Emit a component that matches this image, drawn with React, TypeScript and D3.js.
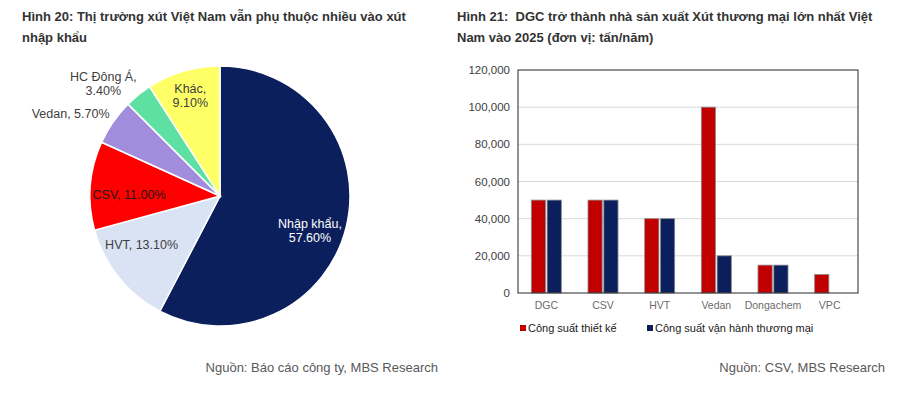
import React from 'react';
import * as d3 from 'd3';

// Pie: thị phần xút Việt Nam
const pieLabels = ['Nhập khẩu', 'HVT', 'CSV', 'Vedan', 'HC Đông Á', 'Khác'];
const pieValues = [57.6, 13.1, 11.0, 5.7, 3.4, 9.1];
const pieColors = ['#0b1f5c', '#dae3f3', '#ff0000', '#a28ddc', '#5fe0a3', '#ffff66'];

// Bar: công suất (tấn/năm)
const companies = ['DGC', 'CSV', 'HVT', 'Vedan', 'Dongachem', 'VPC'];
const seriesNames = ['Công suất thiết kế', 'Công suất vận hành thương mại'];
const designCap = [50000, 50000, 40000, 100000, 15000, 10000];
const operCap = [50000, 50000, 40000, 20000, 15000, 0];
const barColors = ['#c00000', '#0b1f5c'];
const yTicks = [0, 20000, 40000, 60000, 80000, 100000, 120000];

const FONT = '"Liberation Sans", Arial, sans-serif';

// label placement per slice: radius factor, angle nudge (deg), text colour, two lines?
const labelStyle = [
  { r: 0.74, color: '#ffffff', twoLine: true, rot: 7 },
  { r: 0.71, color: '#404040', twoLine: false, rot: 7 },
  { r: 0.70, color: '#1a1a1a', twoLine: false, rot: -4 },
  { r: 1.31, color: '#404040', twoLine: false, rot: -6 },
  { r: 1.25, color: '#404040', twoLine: true, rot: -7 },
  { r: 0.81, color: '#404040', twoLine: true, rot: 0 },
];

function PieChart() {
  const cx = 220, cy = 196, R = 130;
  const pie = d3.pie<number>().sort(null).value(d => d);
  const arcs = pie(pieValues);
  const arc = d3.arc<d3.PieArcDatum<number>>().innerRadius(0).outerRadius(R);
  return (
    <g transform={`translate(${cx},${cy})`}>
      {arcs.map((a, i) => (
        <path key={i} d={arc(a) || ''} fill={pieColors[i]} stroke="#ffffff" strokeWidth={1.5} />
      ))}
      {arcs.map((a, i) => {
        const st = labelStyle[i];
        const mid = (a.startAngle + a.endAngle) / 2 + (st.rot * Math.PI) / 180;
        const x = Math.sin(mid) * R * st.r;
        const y = -Math.cos(mid) * R * st.r;
        const pct = pieValues[i].toFixed(2) + '%';
        return (
          <text key={i} x={x} y={y} textAnchor="middle" fontFamily={FONT} fontSize={12.5} fill={st.color}>
            {st.twoLine ? (
              <>
                <tspan x={x} dy={-2}>{pieLabels[i] + ','}</tspan>
                <tspan x={x} dy={14}>{pct}</tspan>
              </>
            ) : (
              <tspan x={x} dy={4}>{`${pieLabels[i]}, ${pct}`}</tspan>
            )}
          </text>
        );
      })}
    </g>
  );
}

function BarChart() {
  const left = 518, right = 858, top = 70, bottom = 293;
  const y = d3.scaleLinear().domain([0, 120000]).range([bottom, top]);
  const x0 = d3.scaleBand<string>().domain(companies).range([left, right]).paddingInner(0.47).paddingOuter(0.235);
  const x1 = d3.scaleBand<number>().domain([0, 1]).range([0, x0.bandwidth()]).paddingInner(0.1);
  const series = [designCap, operCap];
  const fmt = d3.format(',');
  return (
    <g fontFamily={FONT}>
      {yTicks.map(t => (
        <g key={t}>
          {t > 0 && t < 120000 && (
            <line x1={left} x2={right} y1={y(t)} y2={y(t)} stroke="#d9d9d9" strokeWidth={1} />
          )}
          <text x={510} y={y(t)} dy="0.35em" textAnchor="end" fontSize={11.5} fill="#404040">{fmt(t)}</text>
        </g>
      ))}
      {companies.map((c, ci) => (
        <g key={c} transform={`translate(${x0(c)},0)`}>
          {series.map((s, si) =>
            s[ci] > 0 ? (
              <rect key={si} x={x1(si)} y={y(s[ci])} width={x1.bandwidth()} height={bottom - y(s[ci])}
                fill={barColors[si]} stroke="#8c8c8c" strokeWidth={0.8} />
            ) : null
          )}
          <text x={x0.bandwidth() / 2} y={bottom + 16} textAnchor="middle" fontSize={10.5} fill="#6b6b6b">{c}</text>
        </g>
      ))}
      <rect x={left} y={top} width={right - left} height={bottom - top} fill="none" stroke="#262626" strokeWidth={1} />
      {seriesNames.map((n, i) => {
        const lx = i === 0 ? 520 : 647;
        return (
          <g key={n}>
            <rect x={lx} y={325} width={6} height={6} fill={barColors[i]} />
            <text x={lx + 8} y={332} fontSize={11} fill="#1a1a1a">{n}</text>
          </g>
        );
      })}
    </g>
  );
}

export default function App() {
  return (
    <svg width={904} height={398} style={{ position: 'absolute', left: 0, top: 0, background: '#ffffff' }}>
      <rect width={904} height={398} fill="#ffffff" />
      <g fontFamily={FONT} fontSize={13} fontWeight="bold" fill="#333333">
        <text x={22} y={21}>Hình 20: Thị trường xút Việt Nam vẫn phụ thuộc nhiều vào xút</text>
        <text x={22} y={42}>nhập khẩu</text>
        <text x={457} y={21} style={{ whiteSpace: 'pre' }}>{'Hình 21:  DGC trở thành nhà sản xuất Xút thương mại lớn nhất Việt'}</text>
        <text x={457} y={42}>Nam vào 2025 (đơn vị: tấn/năm)</text>
      </g>
      <PieChart />
      <BarChart />
      <g fontFamily={FONT} fontSize={13} fill="#595959" textAnchor="end">
        <text x={438} y={372}>Nguồn: Báo cáo công ty, MBS Research</text>
        <text x={885} y={372}>Nguồn: CSV, MBS Research</text>
      </g>
    </svg>
  );
}
